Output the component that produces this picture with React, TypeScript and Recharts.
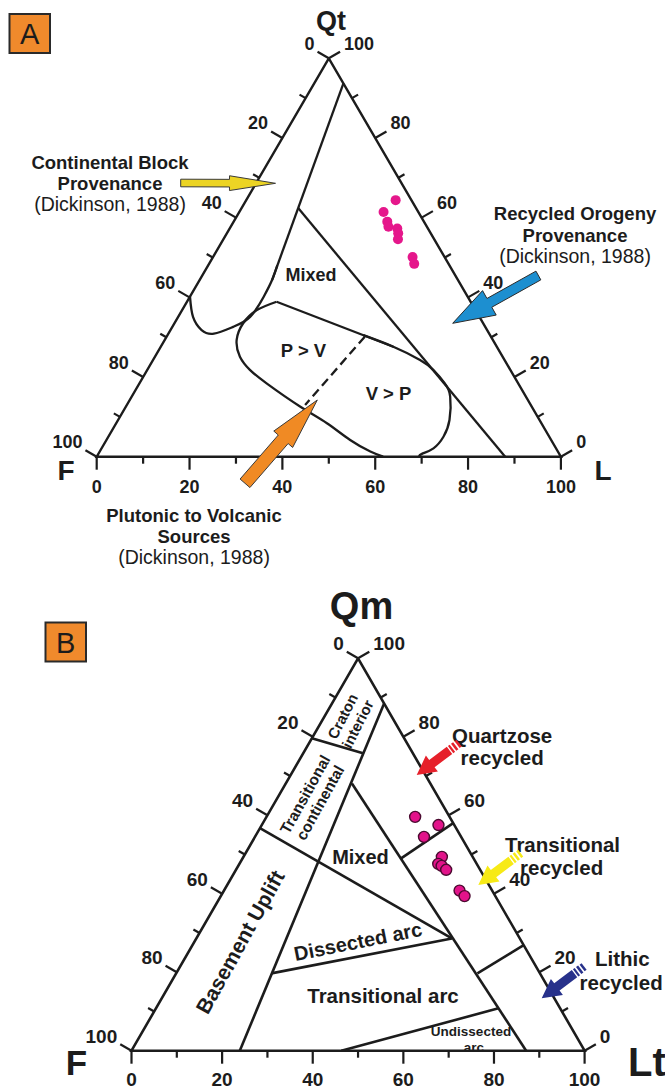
import React from 'react';
import { ComposedChart, XAxis, YAxis, Line, Scatter } from 'recharts';

const FONT = '"Liberation Sans", Arial, sans-serif';
const INK = '#1c1c1c';
const H = Math.sqrt(3) / 2;

// every pair is [apex %, right corner %]; the left corner (F) is the remainder
type Pair = [number, number];

const TICK_VALUES = [0, 10, 20, 30, 40, 50, 60, 70, 80, 90, 100];
const LABELLED = [0, 20, 40, 60, 80, 100];

// ---------- A : Qt - F - L ----------
const A_SAMPLES: Pair[] = [
  [64.4, 32.2], [61.4, 31.1], [59.0, 33.1], [57.7, 34.0], [57.3, 36.1],
  [56.1, 36.9], [54.6, 37.6], [50.1, 43.0], [48.4, 44.2],
];
const A_OUTLINE: Pair[] = [[100, 0], [0, 0], [0, 100], [100, 0]];
const A_BLOCK_EDGE: Pair[] = [[93.7, 6.3], [44.4, 15.6]];
const A_BLOCK_CURVE: Pair[] = [
  [48.0, 14.9], [44.4, 15.6], [40.1, 15.9], [35.1, 15.5], [32.6, 13.1],
  [30.9, 9.8], [31.8, 6.7], [35.1, 3.2], [40.2, 0],
];
const A_RECYCLED_EDGE: Pair[] = [[62.4, 12.2], [0, 88.0]];
const A_ARC_LOWER: Pair[] = [
  [0, 61.7], [1.3, 58.3], [4.2, 52.5], [8.4, 45.4], [12.6, 37.5], [18.4, 27.4],
  [21.8, 22.1], [25.1, 18.3], [29.3, 15.5], [33.5, 14.8], [36.8, 16.1], [38.9, 19.3],
];
const A_ARC_TOP: Pair[] = [[38.9, 19.3], [27.6, 50.1]];
const A_ARC_RIGHT: Pair[] = [
  [30.5, 42.2], [27.6, 50.1], [24.3, 57.5], [21.8, 61.6], [18.4, 65.8], [15.1, 68.6],
  [9.2, 71.4], [5.0, 72.2], [2.1, 71.5], [0.7, 69.7], [0, 69.4],
];
const A_PV_SPLIT: Pair[] = [[30.1, 42.7], [13.0, 38.4]];

// ---------- B : Qm - F - Lt ----------
const B_SAMPLES: Pair[] = [
  [59.6, 32.8], [57.5, 39.0], [54.5, 37.3], [49.4, 43.8], [47.6, 43.9],
  [47.1, 44.9], [46.1, 46.4], [40.8, 52.0], [39.4, 53.8],
];
const B_OUTLINE: Pair[] = [[100, 0], [0, 0], [0, 100], [100, 0]];
const B_BASEMENT: Pair[] = [[88.5, 11.5], [0, 23.9]];
const B_CRATON: Pair[] = [[79.6, 0], [75.8, 13.2]];
const B_MIXED: Pair[] = [[56.7, 0], [28.6, 56.4]];
const B_RECYCLED: Pair[] = [[68.1, 14.6], [0, 87.1]];
const B_QUARTZOSE: Pair[] = [[58.0, 42.0], [49.0, 35.0]];
const B_LITHIC: Pair[] = [[26.9, 73.1], [19.7, 66.5]];
const B_DISSECTED: Pair[] = [[28.6, 56.4], [19.7, 21.0]];
const B_UNDISSECTED: Pair[] = [[0, 46.3], [10.8, 75.6]];

const toXY = (p: Pair) => ({ x: p[1] + p[0] / 2, y: p[0] * H });
const path = (pts: Pair[]) => pts.map(toXY);

const tickRows = () => {
  const rows: any[] = [];
  TICK_VALUES.forEach((v) => {
    rows.push({ ...toXY([100 - v, 0]), side: 'left', v });
    rows.push({ ...toXY([v, 100 - v]), side: 'right', v });
    rows.push({ ...toXY([0, v]), side: 'bottom', v });
  });
  return rows;
};

// pixel anchors of the left corner and triangle size -> axis domains
const frame = (ox: number, oy: number, base: number, tall: number, w: number, h: number) => {
  const kx = base / 100;
  const ky = tall / (100 * H);
  return { xd: [-ox / kx, (w - ox) / kx], yd: [-(h - oy) / ky, oy / ky] };
};

const makeTick = (major: number, minor: number, fs: number, below: number) => (p: any) => {
  const { cx, cy, payload } = p;
  const lab = LABELLED.includes(payload.v);
  const len = lab ? major : minor;
  const d = payload.side === 'left' ? [-0.866, -0.5] : payload.side === 'right' ? [0.866, -0.5] : [0, 1];
  const ex = cx + d[0] * len;
  const ey = cy + d[1] * len;
  let t = null;
  if (lab) {
    const common = { fontSize: fs, fontWeight: 700, fontFamily: FONT, fill: INK, dominantBaseline: 'central' as const };
    if (payload.side === 'bottom') t = <text x={cx} y={cy + below} textAnchor="middle" {...common}>{payload.v}</text>;
    else if (payload.side === 'left') t = <text x={ex - 3} y={ey - 8} textAnchor="end" {...common}>{payload.v}</text>;
    else t = <text x={ex + 4} y={ey - 8} textAnchor="start" {...common}>{payload.v}</text>;
  }
  return (
    <g>
      <line x1={cx} y1={cy} x2={ex} y2={ey} stroke={INK} strokeWidth={2.2} />
      {t}
    </g>
  );
};

const dotA = (p: any) => <circle cx={p.cx} cy={p.cy} r={5} fill="#e5178b" />;
const dotB = (p: any) => <circle cx={p.cx} cy={p.cy} r={5.5} fill="#e2138a" stroke="#4b0a30" strokeWidth={1.4} />;

const arrow = (tail: number[], tip: number[], bw: number, hl: number, hw: number) => {
  const dx = tip[0] - tail[0];
  const dy = tip[1] - tail[1];
  const len = Math.hypot(dx, dy);
  const ux = dx / len, uy = dy / len, nx = -uy, ny = ux;
  const P = (a: number, b: number) => `${tail[0] + ux * a + nx * b},${tail[1] + uy * a + ny * b}`;
  const hb = len - hl;
  return [P(0, -bw), P(hb, -bw), P(hb, -hw), P(len, 0), P(hb, hw), P(hb, bw), P(0, bw)].join(' ');
};

const band = (tail: number[], tip: number[], a0: number, a1: number, bw: number) => {
  const dx = tip[0] - tail[0];
  const dy = tip[1] - tail[1];
  const len = Math.hypot(dx, dy);
  const ux = dx / len, uy = dy / len, nx = -uy, ny = ux;
  const P = (a: number, b: number) => `${tail[0] + ux * a + nx * b},${tail[1] + uy * a + ny * b}`;
  return [P(a0, -bw), P(a1, -bw), P(a1, bw), P(a0, bw)].join(' ');
};

const StripedArrow = ({ tail, tip, color }: { tail: number[]; tip: number[]; color: string }) => {
  const len = Math.hypot(tip[0] - tail[0], tip[1] - tail[1]);
  const head = 19;
  // the solid part starts after the stripes
  const ux = (tip[0] - tail[0]) / len, uy = (tip[1] - tail[1]) / len;
  const bodyTail = [tail[0] + ux * 12, tail[1] + uy * 12];
  return (
    <g fill={color}>
      <polygon points={arrow(bodyTail, tip, 4.5, head, 10)} />
      <polygon points={band(tail, tip, 0, 2.5, 4.2)} />
      <polygon points={band(tail, tip, 4.2, 6.8, 4.4)} />
      <polygon points={band(tail, tip, 8.4, 10.6, 4.5)} />
    </g>
  );
};

const T = ({ x, y, s, children, anchor = 'middle', w = 700, rot = 0 }: any) => (
  <text
    transform={`translate(${x},${y}) rotate(${rot})`}
    textAnchor={anchor}
    dominantBaseline="central"
    fontSize={s}
    fontWeight={w}
    fontFamily={FONT}
    fill={INK}
  >
    {children}
  </text>
);

const lineProps = (w: number) => ({
  dataKey: 'y',
  dot: false,
  stroke: INK,
  strokeWidth: w,
  isAnimationActive: false,
  activeDot: false,
});

export default function App() {
  const fa = frame(96.7, 456.7, 464.2, 398.4, 665, 590);
  const fb = frame(131.5, 460.7, 453.1, 392.4, 665, 501);
  const ticks = tickRows();

  return (
    <div style={{ position: 'absolute', left: 0, top: 0, width: 665, height: 1091, background: '#fff', overflow: 'hidden' }}>
      <div style={{ position: 'absolute', left: 0, top: 0 }}>
        <ComposedChart width={665} height={590} margin={{ top: 0, right: 0, bottom: 0, left: 0 }}>
          <XAxis type="number" dataKey="x" domain={fa.xd} hide allowDataOverflow />
          <YAxis type="number" dataKey="y" domain={fa.yd} hide allowDataOverflow />
          <Line data={path(A_OUTLINE)} type="linear" {...lineProps(2.4)} />
          <Line data={path(A_BLOCK_EDGE)} type="linear" {...lineProps(2.3)} />
          <Line data={path(A_BLOCK_CURVE)} type="natural" {...lineProps(2.3)} />
          <Line data={path(A_RECYCLED_EDGE)} type="linear" {...lineProps(2.3)} />
          <Line data={path(A_ARC_LOWER)} type="natural" {...lineProps(2.3)} />
          <Line data={path(A_ARC_TOP)} type="linear" {...lineProps(2.3)} />
          <Line data={path(A_ARC_RIGHT)} type="natural" {...lineProps(2.3)} />
          <Line data={path(A_PV_SPLIT)} type="linear" strokeDasharray="9 5" {...lineProps(2.3)} />
          <Scatter data={ticks} shape={makeTick(13, 7, 18, 30)} isAnimationActive={false} />
          <Scatter data={path(A_SAMPLES)} shape={dotA} isAnimationActive={false} />
        </ComposedChart>
      </div>
      <div style={{ position: 'absolute', left: 0, top: 590 }}>
        <ComposedChart width={665} height={501} margin={{ top: 0, right: 0, bottom: 0, left: 0 }}>
          <XAxis type="number" dataKey="x" domain={fb.xd} hide allowDataOverflow />
          <YAxis type="number" dataKey="y" domain={fb.yd} hide allowDataOverflow />
          <Line data={path(B_OUTLINE)} type="linear" {...lineProps(2.6)} />
          <Line data={path(B_BASEMENT)} type="linear" {...lineProps(2.6)} />
          <Line data={path(B_CRATON)} type="linear" {...lineProps(2.6)} />
          <Line data={path(B_MIXED)} type="linear" {...lineProps(2.6)} />
          <Line data={path(B_RECYCLED)} type="linear" {...lineProps(2.6)} />
          <Line data={path(B_QUARTZOSE)} type="linear" {...lineProps(2.6)} />
          <Line data={path(B_LITHIC)} type="linear" {...lineProps(2.6)} />
          <Line data={path(B_DISSECTED)} type="linear" {...lineProps(2.6)} />
          <Line data={path(B_UNDISSECTED)} type="linear" {...lineProps(2.6)} />
          <Scatter data={ticks} shape={makeTick(13, 7, 19, 29)} isAnimationActive={false} />
          <Scatter data={path(B_SAMPLES)} shape={dotB} isAnimationActive={false} />
        </ComposedChart>
      </div>

      <svg width={665} height={1091} style={{ position: 'absolute', left: 0, top: 0, pointerEvents: 'none' }}>
        {/* panel A */}
        <rect x={9.5} y={14} width={40.5} height={39} fill="#f08a2c" stroke="#2a2a2a" strokeWidth={2} />
        <T x={29.7} y={34} s={29} w={400}>A</T>
        <T x={331} y={21} s={27}>Qt</T>
        <T x={66} y={470} s={28}>F</T>
        <T x={603} y={470} s={28}>L</T>

        <T x={110} y={162} s={18.5}>Continental Block</T>
        <T x={110} y={183} s={18.5}>Provenance</T>
        <T x={110} y={203.5} s={19.5} w={400}>(Dickinson, 1988)</T>
        <T x={575} y={213} s={18.5}>Recycled Orogeny</T>
        <T x={575} y={235} s={18.5}>Provenance</T>
        <T x={575} y={255.5} s={19.5} w={400}>(Dickinson, 1988)</T>
        <T x={194} y={515} s={18.5}>Plutonic to Volcanic</T>
        <T x={194} y={536} s={18.5}>Sources</T>
        <T x={194} y={556.5} s={19.5} w={400}>(Dickinson, 1988)</T>

        <T x={311} y={275} s={18}>Mixed</T>
        <T x={303.5} y={350} s={18.5}>P &gt; V</T>
        <T x={388.5} y={393.5} s={18.5}>V &gt; P</T>

        <polygon points={arrow([180.7, 183], [275.5, 183.3], 3.8, 46, 7.4)} fill="#ecd424" stroke="#3a3a3a" strokeWidth={1} />
        <polygon points={arrow([538.4, 275.5], [452.7, 323.3], 5, 42, 14)} fill="#1d8fd0" stroke="#2a2a2a" strokeWidth={1} />
        <polygon points={arrow([245, 483.3], [317.3, 400], 6.5, 52, 12.5)} fill="#f08a24" stroke="#3a3a3a" strokeWidth={1} />

        {/* panel B */}
        <rect x={45.5} y={622.5} width={40.5} height={39} fill="#f08a2c" stroke="#2a2a2a" strokeWidth={2} />
        <T x={65.7} y={642.5} s={29} w={400}>B</T>
        <T x={361.5} y={606} s={38}>Qm</T>
        <T x={76.5} y={1062} s={35}>F</T>
        <T x={628} y={1062} s={40} anchor="start">Lt</T>

        <g transform="translate(350,720) rotate(-63)">
          <T x={0} y={-8.5} s={15}>Craton</T>
          <T x={0} y={8.5} s={15}>interior</T>
        </g>
        <g transform="translate(312.5,798.5) rotate(-61)">
          <T x={0} y={-8.5} s={15.5}>Transitional</T>
          <T x={0} y={8.5} s={15.5}>continental</T>
        </g>
        <T x={240} y={942} s={21} rot={-61}>Basement Uplift</T>
        <T x={360.5} y={857} s={20}>Mixed</T>
        <T x={358} y={941.5} s={20} rot={-11.3}>Dissected arc</T>
        <T x={383} y={995} s={20.5}>Transitional arc</T>
        <T x={471} y={1031.5} s={13.5}>Undissected</T>
        <T x={474} y={1047.5} s={13.5}>arc</T>

        <T x={452} y={735} s={20.5} anchor="start">Quartzose</T>
        <T x={460.5} y={757} s={20.5} anchor="start">recycled</T>
        <T x={505} y={844} s={20.5} anchor="start">Transitional</T>
        <T x={520} y={867} s={20.5} anchor="start">recycled</T>
        <T x={595} y={958.5} s={20.5} anchor="start">Lithic</T>
        <T x={579.5} y={982} s={20.5} anchor="start">recycled</T>

        <StripedArrow tail={[459.1, 743.2]} tip={[416.7, 775]} color="#e6202a" />
        <StripedArrow tail={[520.7, 853.2]} tip={[478.3, 885]} color="#f7ea16" />
        <StripedArrow tail={[584.1, 966.5]} tip={[541.7, 998.3]} color="#27318b" />
      </svg>
    </div>
  );
}
